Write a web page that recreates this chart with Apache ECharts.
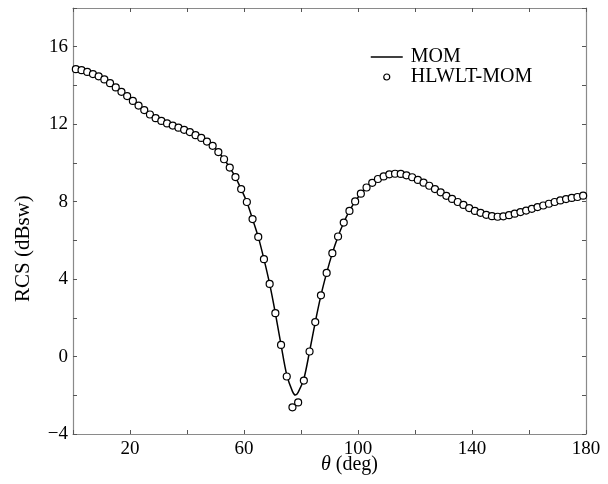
<!DOCTYPE html>
<html>
<head>
<meta charset="utf-8">
<script src="https://cdn.jsdelivr.net/npm/echarts@6/dist/echarts.min.js"></script>
<style>
  html, body { margin: 0; padding: 0; background: #fff; }
  #chart { width: 608px; height: 484px; }
</style>
</head>
<body>
<div id="chart"></div>
<script>
// HLWLT-MOM markers, every 2 deg starting at 1
const markerTheta = [
  1, 3, 5, 7, 9, 11, 13, 15, 17, 19, 21, 23, 25, 27, 29, 31, 33, 35, 37, 39,
  41, 43, 45, 47, 49, 51, 53, 55, 57, 59, 61, 63, 65, 67, 69, 71, 73, 75, 77, 79,
  81, 83, 85, 87, 89, 91, 93, 95, 97, 99, 101, 103, 105, 107, 109, 111, 113, 115, 117, 119,
  121, 123, 125, 127, 129, 131, 133, 135, 137, 139, 141, 143, 145, 147, 149, 151, 153, 155, 157, 159,
  161, 163, 165, 167, 169, 171, 173, 175, 177, 179
];
const markerRcs = [
  14.84, 14.79, 14.70, 14.59, 14.47, 14.31, 14.12, 13.90, 13.67, 13.45,
  13.20, 12.96, 12.73, 12.50, 12.31, 12.17, 12.04, 11.93, 11.82, 11.71,
  11.59, 11.43, 11.29, 11.10, 10.88, 10.56, 10.19, 9.76, 9.27, 8.65,
  7.98, 7.10, 6.18, 5.03, 3.75, 2.24, 0.60, -1.03, -2.62, -2.37,
  -1.24, 0.26, 1.78, 3.16, 4.32, 5.34, 6.20, 6.92, 7.52, 8.01,
  8.41, 8.73, 8.97, 9.17, 9.30, 9.41, 9.44, 9.43, 9.36, 9.26,
  9.12, 8.98, 8.82, 8.65, 8.48, 8.30, 8.14, 7.98, 7.83, 7.67,
  7.52, 7.42, 7.32, 7.25, 7.22, 7.24, 7.30, 7.38, 7.46, 7.54,
  7.63, 7.72, 7.80, 7.89, 7.98, 8.06, 8.13, 8.19, 8.24, 8.31
];

// MOM reference curve
const lineTheta = [
  0, 1, 3, 5, 7, 9, 11, 13, 15, 17, 19, 21, 23, 25, 27, 29, 31, 33, 35, 37, 39,
  41, 43, 45, 47, 49, 51, 53, 55, 57, 59, 61, 63, 65, 67, 69, 71, 73, 75, 77, 78, 79,
  81, 83, 85, 87, 89, 91, 93, 95, 97, 99, 101, 103, 105, 107, 109, 111, 113, 115, 117, 119,
  121, 123, 125, 127, 129, 131, 133, 135, 137, 139, 141, 143, 145, 147, 149, 151, 153, 155, 157, 159,
  161, 163, 165, 167, 169, 171, 173, 175, 177, 179, 180
];
const lineRcs = [
  14.85, 14.84, 14.79, 14.70, 14.59, 14.47, 14.31, 14.12, 13.90, 13.67, 13.45,
  13.20, 12.96, 12.73, 12.50, 12.31, 12.17, 12.04, 11.93, 11.82, 11.71,
  11.59, 11.43, 11.29, 11.10, 10.88, 10.56, 10.19, 9.76, 9.27, 8.65,
  7.98, 7.10, 6.18, 5.03, 3.75, 2.24, 0.60, -0.95, -1.80, -1.99, -1.85,
  -1.15, 0.26, 1.78, 3.16, 4.32, 5.34, 6.20, 6.92, 7.52, 8.01,
  8.41, 8.73, 8.97, 9.17, 9.30, 9.41, 9.44, 9.43, 9.36, 9.26,
  9.12, 8.98, 8.82, 8.65, 8.48, 8.30, 8.14, 7.98, 7.83, 7.67,
  7.52, 7.42, 7.32, 7.25, 7.22, 7.24, 7.30, 7.38, 7.46, 7.54,
  7.63, 7.72, 7.80, 7.89, 7.98, 8.06, 8.13, 8.19, 8.24, 8.31, 8.33
];

const xLabels = [20, 60, 100, 140, 180];
const yLabels = [-4, 0, 4, 8, 12, 16];

const serif = "'Liberation Serif', 'DejaVu Serif', serif";
const axisGray = "#8a8a8a";

const chart = echarts.init(document.getElementById("chart"), null, { renderer: "canvas" });

const frameAxis = {
  axisLine: { show: true, onZero: false, lineStyle: { color: axisGray, width: 1.2 } },
  axisTick: { show: true, inside: true, length: 4, lineStyle: { color: "#555" } },
  splitLine: { show: false },
};

const option = {
  animation: false,
  backgroundColor: "#fff",
  grid: { left: 73, right: 22, top: 8, bottom: 50 },
  xAxis: [
    {
      ...frameAxis,
      type: "value",
      min: 0,
      max: 180,
      interval: 20,
      axisLabel: {
        margin: 6,
        color: "#000",
        fontFamily: serif,
        fontSize: 19,
        formatter: (v) => (xLabels.includes(v) ? String(v) : ""),
      },
    },
    {
      ...frameAxis,
      type: "value",
      position: "top",
      min: 0,
      max: 180,
      interval: 20,
      axisLabel: { show: false },
    },
  ],
  yAxis: [
    {
      ...frameAxis,
      type: "value",
      min: -4,
      max: 18,
      interval: 2,
      axisLabel: {
        margin: 5,
        color: "#000",
        fontFamily: serif,
        fontSize: 19,
        formatter: (v) => (yLabels.includes(v) ? String(v).replace("-", "\u2212") : ""),
      },
    },
    {
      ...frameAxis,
      type: "value",
      position: "right",
      min: -4,
      max: 18,
      interval: 2,
      axisLabel: { show: false },
    },
  ],
  legend: {
    orient: "vertical",
    left: 365,
    top: 42,
    itemWidth: 32,
    itemHeight: 6,
    itemGap: 0,
    textStyle: { fontFamily: serif, fontSize: 20, color: "#000", padding: [0, 0, 0, 3] },
    data: [
      {
        name: "MOM",
        itemStyle: { opacity: 0 },
        lineStyle: { color: "#000", width: 1.5 },
      },
      {
        name: "HLWLT-MOM",
        icon: "circle",
        itemStyle: { color: "#fff", borderColor: "#000", borderWidth: 1.2 },
      },
    ],
  },
  graphic: [
    {
      type: "text",
      left: 321,
      top: 455,
      style: {
        text: "{i|\u03b8} (deg)",
        font: "20px " + serif,
        fill: "#000",
        rich: { i: { fontStyle: "italic", fontFamily: serif, fontSize: 20 } },
      },
    },
    {
      type: "text",
      x: 13,
      y: 302,
      rotation: Math.PI / 2,
      style: { text: "RCS (dBsw)", font: "21px " + serif, fill: "#000" },
    },
  ],
  series: [
    {
      name: "MOM",
      type: "line",
      data: lineTheta.map((t, i) => [t, lineRcs[i]]),
      smooth: 0.3,
      symbol: "none",
      lineStyle: { color: "#000", width: 1.5 },
      itemStyle: { color: "#000" },
      z: 2,
    },
    {
      name: "HLWLT-MOM",
      type: "scatter",
      data: markerTheta.map((t, i) => [t, markerRcs[i]]),
      symbol: "circle",
      symbolSize: 7,
      itemStyle: { color: "#fff", borderColor: "#000", borderWidth: 1.2, opacity: 1 },
      z: 3,
    },
  ],
};

chart.setOption(option);
window.addEventListener("resize", chart.resize);
</script>
</body>
</html>
